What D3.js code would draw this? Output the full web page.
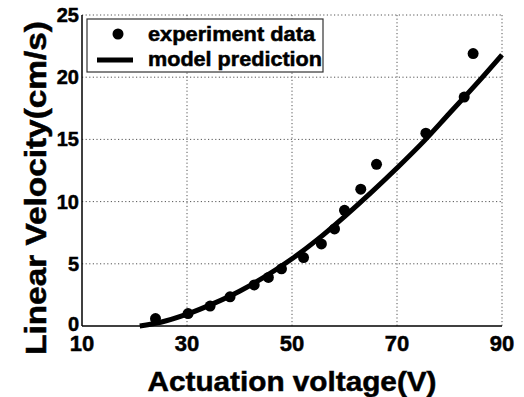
<!DOCTYPE html>
<html>
<head>
<meta charset="UTF-8" />
<script src="https://d3js.org/d3.v7.min.js"></script>
<style>
  body { margin: 0; background: #fff; }
  text { font-family: "Liberation Sans", Arial, sans-serif; font-weight: bold; fill: #000;
         stroke: #000; stroke-width: 0.5px; }
  .grid line { stroke: #555; stroke-width: 1; stroke-dasharray: 1.2 2.4; }
</style>
</head>
<body>
<svg width="524" height="397"></svg>
<script>
// measured points
const expVoltage = [24, 30.2, 34.4, 38.2, 42.8, 45.5, 48, 52.2, 55.6, 58.1, 60, 63.1, 66.1, 75.5, 82.8, 84.5];
const expVelocity = [0.6, 1.0, 1.6, 2.35, 3.3, 3.9, 4.6, 5.5, 6.6, 7.8, 9.3, 11.0, 13.0, 15.5, 18.4, 21.9];

// model curve
const modelVoltage = [21, 25, 30, 35, 40, 45, 50, 55, 60, 65, 70, 75, 80, 85, 90];
const modelVelocity = [0, 0.3, 0.95, 1.8, 2.8, 4.0, 5.4, 7.0, 8.8, 10.7, 12.7, 14.8, 17.1, 19.4, 21.8];

const xTicks = [10, 30, 50, 70, 90];
const yTicks = [0, 5, 10, 15, 20, 25];

const svg = d3.select("svg");
const pLeft = 82, pRight = 502, pTop = 15, pBottom = 326;

const x = d3.scaleLinear().domain([10, 90]).range([pLeft, pRight]);
const y = d3.scaleLinear().domain([0, 25]).range([pBottom, pTop]);

// grid (dotted), incl. top and right frame
const grid = svg.append("g").attr("class", "grid");
grid.selectAll(".vx").data(xTicks.slice(1)).enter().append("line")
  .attr("x1", d => x(d)).attr("x2", d => x(d)).attr("y1", pTop).attr("y2", pBottom);
grid.selectAll(".hy").data(yTicks.slice(1)).enter().append("line")
  .attr("x1", pLeft).attr("x2", pRight).attr("y1", d => y(d)).attr("y2", d => y(d));

// solid left and bottom axes
svg.append("line").attr("x1", pLeft).attr("x2", pLeft).attr("y1", pTop).attr("y2", pBottom)
  .attr("stroke", "#000").attr("stroke-width", 1.5);
svg.append("line").attr("x1", pLeft).attr("x2", pRight).attr("y1", pBottom).attr("y2", pBottom)
  .attr("stroke", "#000").attr("stroke-width", 1.5);

// tick labels
svg.append("g").selectAll("text").data(xTicks).enter().append("text")
  .attr("x", d => x(d)).attr("y", 351)
  .attr("text-anchor", "middle").attr("font-size", 22)
  .text(d => d);
svg.append("g").selectAll("text").data(yTicks).enter().append("text")
  .attr("x", 79).attr("y", d => d === 0 ? y(d) + 5 : y(d) + 7)
  .attr("text-anchor", "end").attr("font-size", 20)
  .text(d => d);

// axis titles
svg.append("text").attr("x", 292).attr("y", 391).attr("text-anchor", "middle")
  .attr("font-size", 28).attr("textLength", 289).attr("lengthAdjust", "spacingAndGlyphs")
  .text("Actuation voltage(V)");
svg.append("text").attr("transform", "translate(46,188) rotate(-90)")
  .attr("text-anchor", "middle").attr("font-size", 29)
  .attr("textLength", 334).attr("lengthAdjust", "spacingAndGlyphs")
  .text("Linear Velocity(cm/s)");

// model line
const line = d3.line().x(d => x(d[0])).y(d => y(d[1])).curve(d3.curveMonotoneX);
svg.append("path").datum(d3.zip(modelVoltage, modelVelocity))
  .attr("d", line).attr("fill", "none").attr("stroke", "#000").attr("stroke-width", 5);

// experiment dots
svg.append("g").selectAll("circle").data(d3.zip(expVoltage, expVelocity)).enter().append("circle")
  .attr("cx", d => x(d[0])).attr("cy", d => y(d[1])).attr("r", 5.5).attr("fill", "#000");

// legend
const lg = svg.append("g");
lg.append("rect").attr("x", 87).attr("y", 19).attr("width", 236).attr("height", 53)
  .attr("fill", "#fff").attr("stroke", "#333").attr("stroke-width", 1.2);
lg.append("circle").attr("cx", 118).attr("cy", 34).attr("r", 5.5).attr("fill", "#000");
lg.append("line").attr("x1", 97).attr("x2", 133).attr("y1", 60).attr("y2", 60)
  .attr("stroke", "#000").attr("stroke-width", 5);
lg.append("text").attr("x", 148).attr("y", 41).attr("font-size", 20)
  .attr("textLength", 167).attr("lengthAdjust", "spacingAndGlyphs").text("experiment data");
lg.append("text").attr("x", 148).attr("y", 66).attr("font-size", 20)
  .attr("textLength", 174).attr("lengthAdjust", "spacingAndGlyphs").text("model prediction");
</script>
</body>
</html>
